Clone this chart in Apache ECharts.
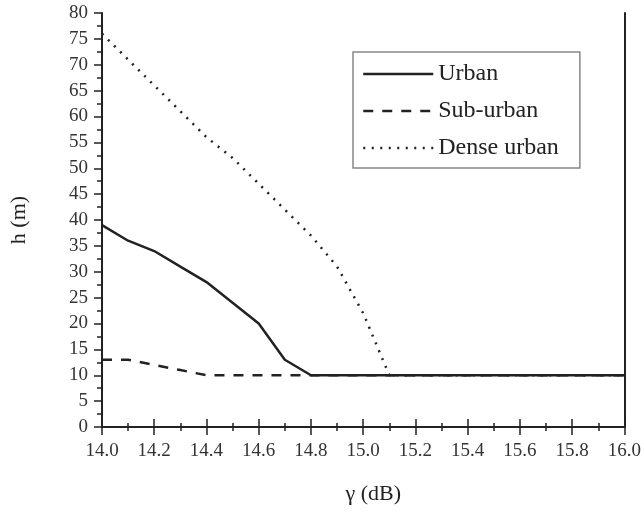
<!DOCTYPE html>
<html>
<head>
<meta charset="utf-8">
<script src="https://cdn.jsdelivr.net/npm/echarts@6/dist/echarts.min.js"></script>
<style>
  html, body { margin: 0; padding: 0; background: #fff; }
  #chart { width: 644px; height: 512px; }
</style>
</head>
<body>
<div id="chart"></div>
<script>
// gamma (dB) sample points
var gamma = [14.0, 14.1, 14.2, 14.3, 14.4, 14.5, 14.6, 14.7, 14.8, 14.9, 15.0,
             15.1, 15.2, 15.3, 15.4, 15.5, 15.6, 15.7, 15.8, 15.9, 16.0];
// h (m)
var urban      = [39, 36, 34, 31, 28, 24, 20, 13, 10, 10, 10, 10, 10, 10, 10, 10, 10, 10, 10, 10, 10];
var subUrban   = [13, 13, 12, 11, 10, 10, 10, 10, 10, 10, 10, 10, 10, 10, 10, 10, 10, 10, 10, 10, 10];
var denseUrban = [76, 71, 66, 61, 56, 52, 47, 42, 37, 31, 22, 10, 10, 10, 10, 10, 10, 10, 10, 10, 10];
var seriesNames = ['Urban', 'Sub-urban', 'Dense urban'];

var FONT = 'Liberation Serif';
var INK = '#222';

function pairs(ys) {
	var out = [];
	for (var i = 0; i < gamma.length; i++) out.push([gamma[i], ys[i]]);
	return out;
}

var chart = echarts.init(document.getElementById('chart'));

var option = {
	animation: false,
	backgroundColor: '#fff',
	grid: { left: 102, top: 13, right: 17, bottom: 85 },
	legend: {
		orient: 'vertical',
		left: 353,
		top: 52,
		data: seriesNames,
		itemWidth: 70,
		itemHeight: 14,
		itemGap: 13,
		padding: [10, 21, 8, 9],
		borderColor: '#888',
		borderWidth: 1.5,
		itemStyle: { opacity: 0 },
		lineStyle: { width: 2.5 },
		textStyle: { fontFamily: FONT, fontSize: 24, color: INK }
	},
	xAxis: [{
		type: 'value',
		min: 14, max: 16, interval: 0.2,
		name: 'γ (dB)',
		nameLocation: 'middle',
		nameGap: 56,
		nameTextStyle: { fontFamily: FONT, fontSize: 22, color: INK, padding: [0, 0, 0, 20] },
		axisLine: { lineStyle: { color: INK, width: 2 } },
		axisTick: { inside: false, length: 8, lineStyle: { color: INK, width: 1.5 } },
		minorTick: { show: true, splitNumber: 2, length: 4, lineStyle: { color: INK, width: 1.5 } },
		axisLabel: { fontFamily: FONT, fontSize: 19, color: '#333', margin: 15,
			formatter: function (v) { return v.toFixed(1); } },
		splitLine: { show: false }
	}, {
		type: 'value',
		position: 'top',
		min: 14, max: 16, interval: 0.2,
		axisLine: { show: true, lineStyle: { color: INK, width: 2 } },
		axisTick: { show: true, inside: false, length: 8, lineStyle: { color: INK, width: 1.5 } },
		minorTick: { show: true, splitNumber: 2, length: 4, lineStyle: { color: INK, width: 1.5 } },
		axisLabel: { show: false },
		splitLine: { show: false }
	}],
	yAxis: [{
		type: 'value',
		min: 0, max: 80, interval: 5,
		name: 'h (m)',
		nameLocation: 'middle',
		nameGap: 72,
		nameTextStyle: { fontFamily: FONT, fontSize: 22, color: INK },
		axisLine: { show: true, lineStyle: { color: INK, width: 2 } },
		axisTick: { show: true, inside: false, length: 8, lineStyle: { color: INK, width: 1.5 } },
		minorTick: { show: true, splitNumber: 2, length: 5, lineStyle: { color: INK, width: 1.5 } },
		axisLabel: { fontFamily: FONT, fontSize: 19, color: '#333', margin: 14 },
		splitLine: { show: false }
	}, {
		type: 'value',
		position: 'right',
		min: 0, max: 80, interval: 5,
		axisLine: { show: true, lineStyle: { color: INK, width: 2 } },
		axisTick: { show: false },
		axisLabel: { show: false },
		splitLine: { show: false }
	}],
	series: [{
		name: seriesNames[0],
		type: 'line',
		symbol: 'none',
		data: pairs(urban),
		lineStyle: { color: INK, width: 2.5, type: 'solid' },
		itemStyle: { color: INK }
	}, {
		name: seriesNames[1],
		type: 'line',
		symbol: 'none',
		data: pairs(subUrban),
		lineStyle: { color: INK, width: 2.5, type: [10, 9] },
		itemStyle: { color: INK }
	}, {
		name: seriesNames[2],
		type: 'line',
		symbol: 'none',
		data: pairs(denseUrban),
		lineStyle: { color: INK, width: 2.5, type: [2, 6.5] },
		itemStyle: { color: INK }
	}]
};

chart.setOption(option);
</script>
</body>
</html>
